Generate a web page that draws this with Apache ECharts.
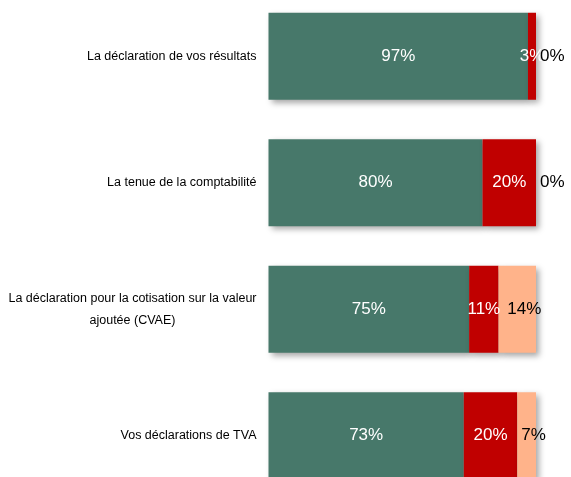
<!DOCTYPE html>
<html lang="fr">
<head>
    <meta charset="UTF-8">
    <title>Chart</title>
    <script src="https://cdn.jsdelivr.net/npm/echarts@6/dist/echarts.min.js"></script>
    <style>
        *{
            margin: 0;
            padding: 0;
        }
        body{
            background-color: #ffffff;
            overflow: hidden;
        }
    </style>
</head>
<body>
<div id="main" style="width:571px;height:477px;"></div>

<script>
    // categories, top to bottom
    var categories = [
        'La déclaration de vos résultats',
        'La tenue de la comptabilité',
        'La déclaration pour la cotisation sur la valeur\najoutée (CVAE)',
        'Vos déclarations de TVA'
    ];
    // percentages per segment
    var greenValues = [97, 80, 75, 73];
    var redValues = [3, 20, 11, 20];
    var peachValues = [0, 0, 14, 7];

    var textFont = '"Liberation Sans", Arial, sans-serif';

    // zero values get their label to the right of the bar
    function buildData(values) {
        return values.map(function (v) {
            if (v === 0) {
                return {value: v, label: {position: 'right', distance: 4, offset: [0, 0]}};
            }
            return v;
        });
    }

    var shadow = {
        shadowColor: 'rgba(0,0,0,0.35)',
        shadowBlur: 6,
        shadowOffsetX: 3,
        shadowOffsetY: 3
    };

    function makeSeries(name, values, color, labelColor, labelOffset) {
        return {
            name: name,
            type: 'bar',
            stack: 'total',
            barWidth: 87,
            data: buildData(values),
            itemStyle: Object.assign({color: color}, shadow),
            label: {
                show: true,
                position: 'inside',
                offset: labelOffset,
                formatter: '{c}%',
                color: labelColor,
                fontFamily: textFont,
                fontSize: 17,
                textBorderWidth: 0
            },
            emphasis: {disabled: true}
        };
    }

    var myChart = echarts.init(document.getElementById('main'));
    var option = {
        animation: false,
        grid: {
            left: 268.5,
            right: 35,
            top: -7,
            height: 506,
            containLabel: false,
            outerBoundsMode: 'none'
        },
        xAxis: {
            type: 'value',
            min: 0,
            max: 100,
            show: false
        },
        yAxis: {
            type: 'category',
            inverse: true,
            data: categories,
            axisLine: {show: false},
            axisTick: {show: false},
            axisLabel: {
                margin: 12,
                fontFamily: textFont,
                fontSize: 12.5,
                color: '#000000',
                lineHeight: 22,
                formatter: function (v) {
                    return v.split('\n').map(function (s) { return '{c|' + s + '}'; }).join('\n');
                },
                rich: {
                    c: {
                        align: 'center',
                        fontFamily: textFont,
                        fontSize: 12.5,
                        color: '#000000',
                        lineHeight: 22
                    }
                }
            }
        },
        series: [
            makeSeries('green', greenValues, '#47786A', '#ffffff', [0, 0]),
            makeSeries('red', redValues, '#C00000', '#ffffff', [0, 0]),
            makeSeries('peach', peachValues, '#FFB38A', '#000000', [7, 0])
        ]
    };
    myChart.setOption(option);
</script>
</body>
</html>
